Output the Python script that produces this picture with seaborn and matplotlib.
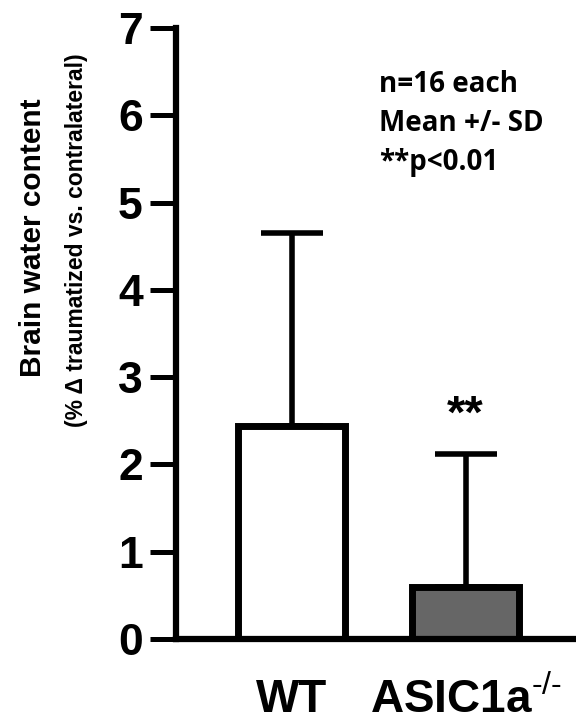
import matplotlib

matplotlib.use("Agg")

import matplotlib.pyplot as plt
import numpy as np
import seaborn as sns

# Valores
grupos = ["WT", "ASIC1a$^{\u2010/\u2010}$"]
medias = [2.44, 0.60]
desvios = [2.21, 1.52]
cores = ["#FFFFFF", "#666666"]
yticks = [0, 1, 2, 3, 4, 5, 6, 7]
nota = "n=16 each\nMean +/- SD\n**p<0.01"

PRETO = "black"
sns.set_style("ticks", {"axes.edgecolor": PRETO, "xtick.color": PRETO,
                        "ytick.color": PRETO, "text.color": PRETO})
plt.rcParams["font.family"] = ["Liberation Sans", "DejaVu Sans"]
plt.rcParams["mathtext.fontset"] = "custom"
plt.rcParams["mathtext.rm"] = "Liberation Sans"
plt.rcParams["mathtext.default"] = "rm"

fig = plt.figure(figsize=(5.76, 7.25), dpi=100)
ax = fig.add_axes([0.3056, 0.1186, 0.6944, 0.8428])

sns.barplot(
    x=grupos,
    y=medias,
    hue=grupos,
    palette=cores,
    legend=False,
    width=0.62,
    edgecolor=PRETO,
    linewidth=5,
    errorbar=None,
    ax=ax,
)

x = np.arange(len(grupos))
ax.errorbar(
    x,
    medias,
    yerr=[np.zeros(len(medias)), desvios],
    fmt="none",
    ecolor=PRETO,
    elinewidth=4,
    capsize=22,
    capthick=4,
    zorder=0.5,
)

ax.set_xlim(-0.664, 1.635)
ax.set_ylim(0, 7)
ax.set_yticks(yticks)
ax.set_yticklabels([str(v) for v in yticks], fontsize=32, fontweight="bold")
ax.tick_params(axis="y", length=19, width=3.6, pad=5, colors=PRETO)
ax.tick_params(axis="x", length=0, pad=28, labelsize=33, colors=PRETO)
for lbl in ax.get_xticklabels():
    lbl.set_fontweight("bold")

for lado in ["top", "right"]:
    ax.spines[lado].set_visible(False)
for lado in ["left", "bottom"]:
    ax.spines[lado].set_linewidth(4.5)
    ax.spines[lado].set_color(PRETO)
ax.set_xlabel("")
ax.set_ylabel("")

fig.text(0.057, 0.672, "Brain water content", rotation=90, fontsize=21.5,
         fontweight="bold", ha="center", va="center")
fig.text(0.132, 0.669, "(% \u0394 traumatized vs. contralateral)", rotation=90,
         fontsize=16.5, fontweight="bold", ha="center", va="center")

ax.text(0.505, 6.52, nota, fontsize=20, fontweight="bold",
        family=["Open Sans", "DejaVu Sans"], ha="left", va="top", linespacing=1.45)
ax.text(1, 2.42, "**", fontsize=34, fontweight="bold", ha="center", va="baseline")

fig.savefig("out.png", dpi=100)
